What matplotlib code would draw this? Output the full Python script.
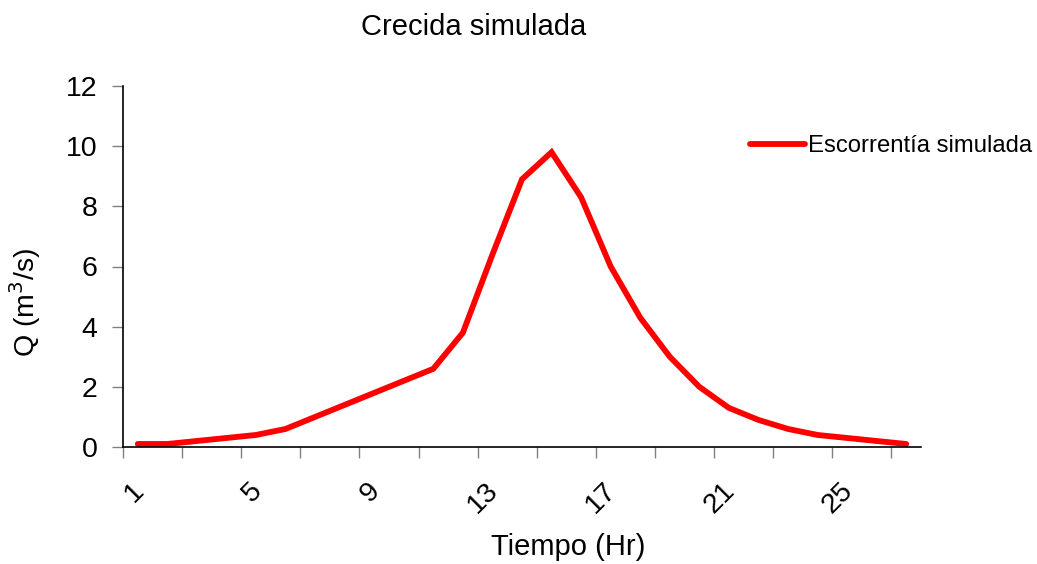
import matplotlib
matplotlib.use("Agg")
import matplotlib.pyplot as plt
import matplotlib.transforms as mtransforms
import numpy as np

plt.rcParams['font.family'] = ['Liberation Sans', 'DejaVu Sans']

hours = list(range(1, 28))
flow = [0.1, 0.1, 0.2, 0.3, 0.4, 0.6, 1.0, 1.4, 1.8, 2.2, 2.6, 3.8, 6.4, 8.9, 9.8,
        8.3, 6.0, 4.3, 3.0, 2.0, 1.3, 0.9, 0.6, 0.4, 0.3, 0.2, 0.1]
label_hours = [1, 5, 9, 13, 17, 21, 25]
yticks = [0, 2, 4, 6, 8, 10, 12]

fig = plt.figure(figsize=(10.37, 5.64), dpi=100)
ax = fig.add_axes([123/1037, 1-447/564, (921-123)/1037, (447-86)/564])

ax.plot(hours, flow, color='#FF0000', lw=4.2, solid_joinstyle='miter',
        solid_capstyle='round', label='Escorrentía simulada', clip_on=False)

ax.set_xlim(0.5, 27.5)
ax.set_ylim(0, 12)
ax.set_yticks(yticks)
ax.set_yticklabels([str(v) for v in yticks], fontsize=20.5)

ax.set_xticks(np.arange(0.5, 27, 2))
ax.set_xticklabels([])
ax.set_xticks(label_hours, minor=True)
ax.set_xticklabels([str(h) for h in label_hours], minor=True, rotation=45,
                   ha='right', fontsize=20.5)
ax.tick_params(axis='x', which='minor', length=0, pad=22)
ax.tick_params(axis='x', which='major', direction='out', length=8, color='#808080', width=1)
ax.tick_params(axis='y', direction='out', length=8, color='#808080', width=1, pad=10.5)

offset = mtransforms.ScaledTranslation(11/100, 0, fig.dpi_scale_trans)
for lbl in ax.get_xticklabels(minor=True):
    lbl.set_transform(lbl.get_transform() + offset)

for s in ['top', 'right']:
    ax.spines[s].set_visible(False)
for s in ['left', 'bottom']:
    ax.spines[s].set_color('black')
    ax.spines[s].set_linewidth(1.2)

ax.set_xlabel('Tiempo (Hr)', fontsize=21)
ax.xaxis.set_label_coords((568-123)/798, (447-533)/361)
ax.set_ylabel('Q (m$^3$/s)', fontsize=20.5)
ax.yaxis.set_label_coords((43-123)/798, (447-302)/361)
fig.text(474/1037, 1-27/564, 'Crecida simulada', fontsize=21, ha='center', va='center')

leg = fig.legend(loc='center left', bbox_to_anchor=(750/1037, 1-146/564), frameon=False,
                 fontsize=17.2, handlelength=2.3, handletextpad=0.12, borderaxespad=0,
                 borderpad=0)

fig.savefig('out.png', dpi=100, facecolor='white')
